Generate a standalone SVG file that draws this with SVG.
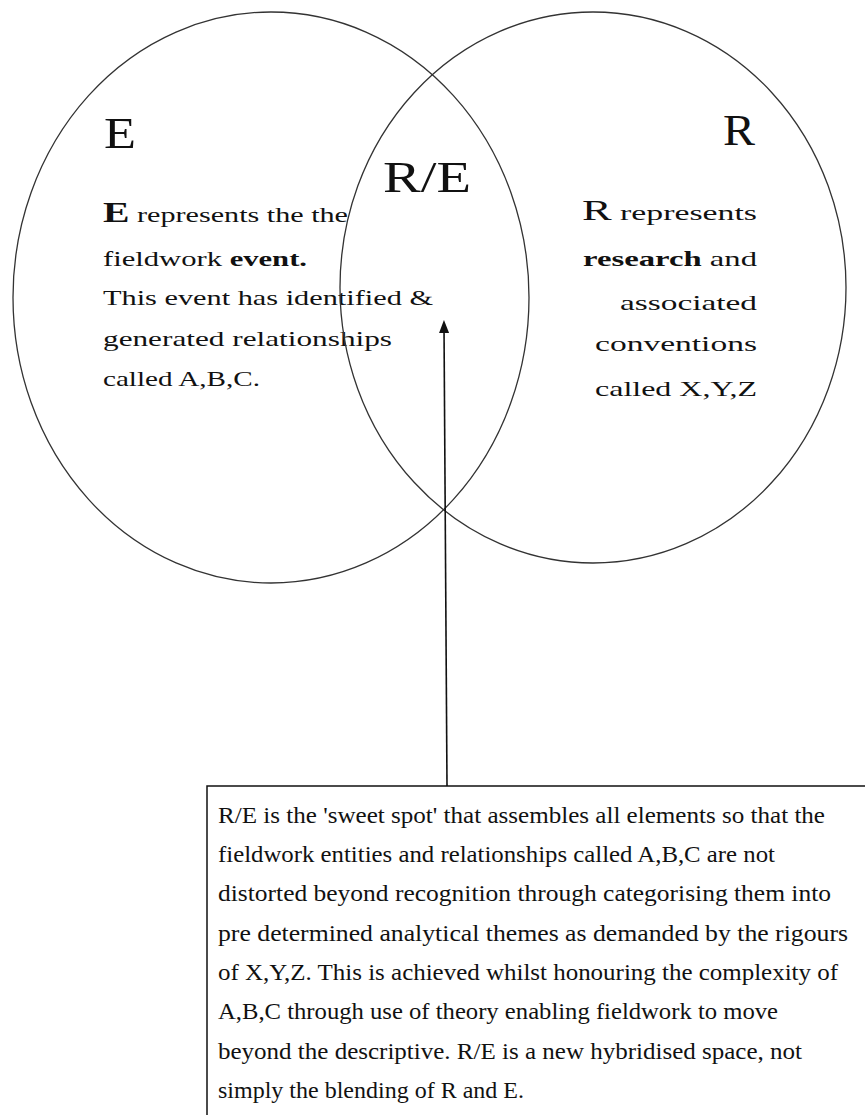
<svg xmlns="http://www.w3.org/2000/svg" width="865" height="1115" viewBox="0 0 865 1115">
<style>
.ell{fill:none;stroke:#333;stroke-width:1.3}
.t{font-family:"Liberation Serif","Times New Roman",serif;fill:#111}
.big{font-size:45px}
.side{font-size:22px}
.init{font-size:29px}
.box{font-size:24px}
.b{font-weight:bold}
</style>
<defs>
<marker id="ah" viewBox="0 0 13 10" refX="7" refY="5" markerWidth="13" markerHeight="10" markerUnits="userSpaceOnUse" orient="auto">
<path d="M0,0 L13,5 L0,10 z" fill="#111"/>
</marker>
</defs>
<rect width="865" height="1115" fill="#fff"/>
<g id="E">
<ellipse class="ell" cx="271" cy="297.5" rx="258" ry="285.5"/>
<text class="t big" x="104" y="148" textLength="32" lengthAdjust="spacingAndGlyphs">E</text>
<text class="t side" x="103" y="222" textLength="245" lengthAdjust="spacingAndGlyphs"><tspan class="init b">E</tspan> represents the the</text>
<text class="t side" x="103" y="266" textLength="204" lengthAdjust="spacingAndGlyphs">fieldwork <tspan class="b">event.</tspan></text>
<text class="t side" x="103" y="305" textLength="330" lengthAdjust="spacingAndGlyphs">This event has identified &amp;</text>
<text class="t side" x="103" y="346" textLength="289" lengthAdjust="spacingAndGlyphs">generated relationships</text>
<text class="t side" x="103" y="386" textLength="157" lengthAdjust="spacingAndGlyphs">called A,B,C.</text>
</g>
<g id="R">
<ellipse class="ell" cx="593" cy="287.5" rx="253" ry="275.5"/>
<text class="t big" x="723" y="145" textLength="32" lengthAdjust="spacingAndGlyphs">R</text>
<text class="t side" x="582" y="220" textLength="175" lengthAdjust="spacingAndGlyphs"><tspan class="init">R</tspan> represents</text>
<text class="t side" x="583" y="266" textLength="174" lengthAdjust="spacingAndGlyphs"><tspan class="b">research</tspan> and</text>
<text class="t side" x="620" y="310" textLength="137" lengthAdjust="spacingAndGlyphs">associated</text>
<text class="t side" x="595" y="351" textLength="162" lengthAdjust="spacingAndGlyphs">conventions</text>
<text class="t side" x="595" y="396" textLength="162" lengthAdjust="spacingAndGlyphs">called X,Y,Z</text>
</g>
<g id="RE">
<text class="t big" x="383" y="192" textLength="88" lengthAdjust="spacingAndGlyphs">R/E</text>
</g>
<g id="connectors">
<line x1="447" y1="786" x2="444" y2="326" stroke="#111" stroke-width="1.6" marker-end="url(#ah)"/>
</g>
<g id="note">
<rect x="207" y="786" width="700" height="400" fill="none" stroke="#111" stroke-width="1.5"/>
<text class="t box" x="218" y="823" textLength="607" lengthAdjust="spacingAndGlyphs">R/E is the 'sweet spot' that assembles all elements so that the</text>
<text class="t box" x="218" y="862" textLength="557" lengthAdjust="spacingAndGlyphs">fieldwork entities and relationships called A,B,C are not</text>
<text class="t box" x="218" y="901" textLength="613" lengthAdjust="spacingAndGlyphs">distorted beyond recognition through categorising them into</text>
<text class="t box" x="218" y="941" textLength="630" lengthAdjust="spacingAndGlyphs">pre determined analytical themes as demanded by the rigours</text>
<text class="t box" x="218" y="980" textLength="620" lengthAdjust="spacingAndGlyphs">of X,Y,Z. This is achieved whilst honouring the complexity of</text>
<text class="t box" x="218" y="1019" textLength="560" lengthAdjust="spacingAndGlyphs">A,B,C through use of theory enabling fieldwork to move</text>
<text class="t box" x="218" y="1059" textLength="584" lengthAdjust="spacingAndGlyphs">beyond the descriptive. R/E is a new hybridised space, not</text>
<text class="t box" x="218" y="1098">simply the blending of R and E.</text>
</g>
</svg>
